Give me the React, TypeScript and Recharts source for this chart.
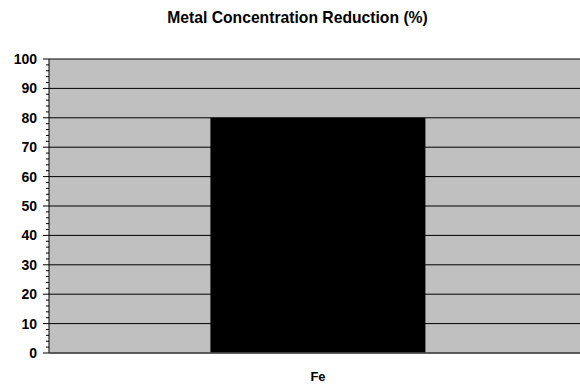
// Bar chart: metal concentration reduction (%) per metal.
import { Bar, BarChart, CartesianGrid, XAxis, YAxis } from "recharts";

const metals = ["Fe"];
const reduction = [80];
const majorTicks = [0, 10, 20, 30, 40, 50, 60, 70, 80, 90, 100];
const minorTicks = [
  0, 2, 4, 6, 8, 10, 12, 14, 16, 18, 20, 22, 24, 26, 28, 30, 32, 34, 36, 38, 40,
  42, 44, 46, 48, 50, 52, 54, 56, 58, 60, 62, 64, 66, 68, 70, 72, 74, 76, 78, 80,
  82, 84, 86, 88, 90, 92, 94, 96, 98, 100,
];

const data = metals.map((name, i) => ({ name, value: reduction[i] }));

const font = "'Liberation Sans', Arial, sans-serif";

// every tick gets a mark; only the tens get a long mark and a label
const AxisTick = (props: any) => {
  const { x, y, payload } = props;
  const isMajor = majorTicks.includes(payload.value);
  return (
    <g>
      <line
        x1={isMajor ? x + 6 : x + 9}
        x2={x + 12}
        y1={y}
        y2={y}
        stroke="#000"
        strokeWidth={1}
      />
      {isMajor && (
        <text
          x={x}
          y={y}
          dy={5}
          textAnchor="end"
          fill="#000"
          fontSize={14}
          fontWeight="bold"
          fontFamily={font}
        >
          {payload.value}
        </text>
      )}
    </g>
  );
};

export default function App() {
  return (
    <div
      style={{
        position: "fixed",
        left: 0,
        top: 0,
        width: 580,
        height: 386,
        overflow: "hidden",
        background: "#fff",
        fontFamily: font,
      }}
    >
      <svg width={580} height={40} style={{ position: "absolute", left: 0, top: 0 }}>
        <text
          x={297.5}
          y={23}
          textAnchor="middle"
          fontFamily={font}
          fontWeight="bold"
          fontSize={15.7}
          fill="#000"
        >
          Metal Concentration Reduction (%)
        </text>
      </svg>
      <BarChart
        width={587}
        height={386}
        data={data}
        margin={{ top: 59, right: 0, bottom: 0, left: 0 }}
        barCategoryGap="30%"
      >
        <CartesianGrid
          vertical={false}
          horizontalValues={majorTicks}
          fill="#C0C0C0"
          fillOpacity={1}
          stroke="#000"
        />
        <YAxis
          width={49}
          domain={[0, 100]}
          ticks={minorTicks}
          interval={0}
          tickSize={6}
          tickMargin={6}
          tickLine={false}
          axisLine={{ stroke: "#000" }}
          tick={<AxisTick />}
        />
        <XAxis
          dataKey="name"
          height={33}
          tickLine={false}
          tickSize={0}
          tickMargin={19}
          axisLine={{ stroke: "#555", strokeWidth: 1.5 }}
          tick={{ fill: "#000", fontSize: 13, fontWeight: "bold", fontFamily: font }}
        />
        <Bar dataKey="value" fill="#000" isAnimationActive={false} />
      </BarChart>
    </div>
  );
}
